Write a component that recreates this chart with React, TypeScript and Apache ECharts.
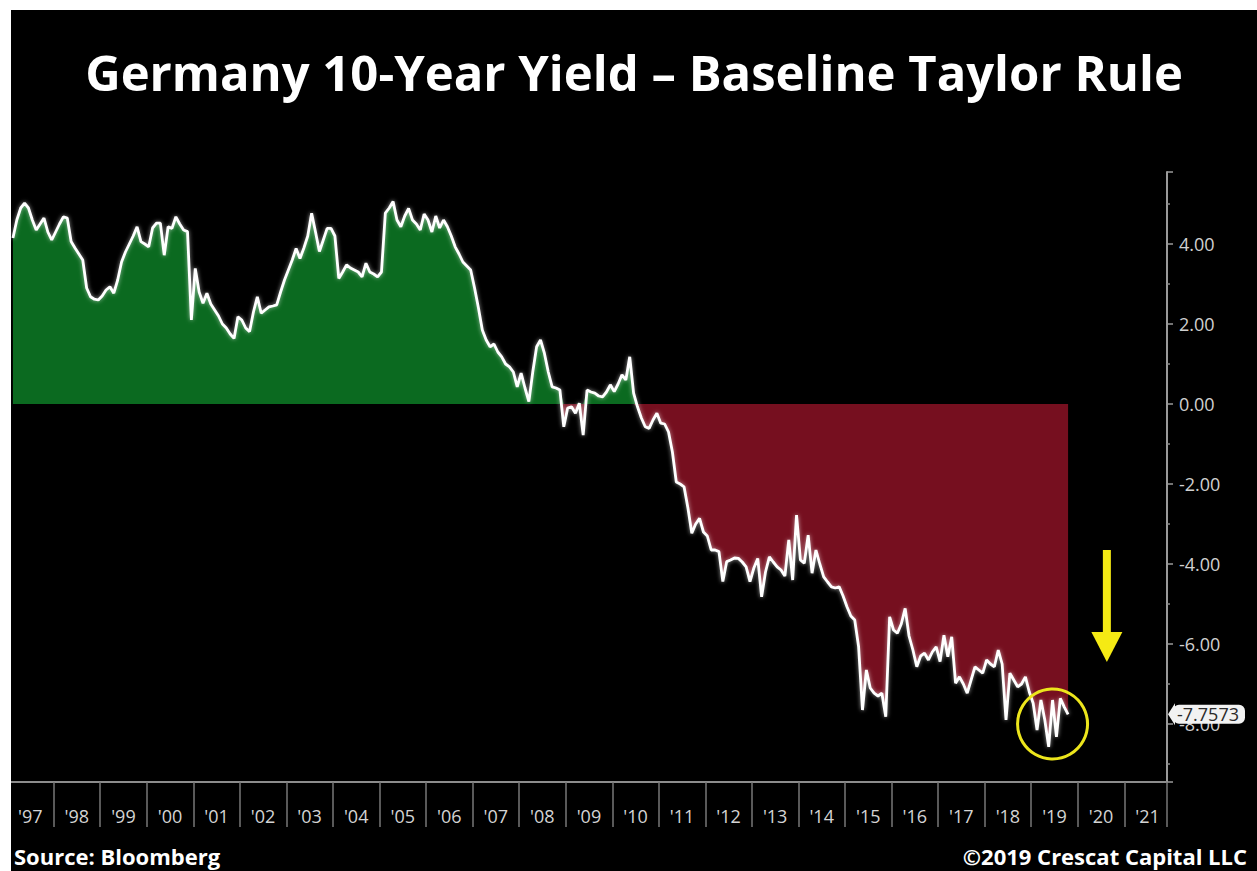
import React, { useEffect, useRef } from "react";
import * as echarts from "echarts";

const TITLE = "Germany 10-Year Yield – Baseline Taylor Rule";
const SOURCE = "Source: Bloomberg";
const COPYRIGHT = "©2019 Crescat Capital LLC";

// Monthly gap (10Y yield minus baseline Taylor rule), first value = Feb 1997
const FIRST_YEAR = 1997;
const FIRST_MONTH = 2;
const LAST_AXIS_YEAR = 2021;
const LAST_AXIS_MONTH = 11;
const y1997 = [4.15, 4.6, 4.9, 5.02, 4.9, 4.6, 4.35, 4.5, 4.65, 4.3, 4.1];
const y1998 = [4.3, 4.5, 4.68, 4.65, 4.06, 3.9, 3.75, 3.6, 2.9, 2.68, 2.62, 2.6];
const y1999 = [2.7, 2.85, 2.93, 2.77, 3.1, 3.55, 3.8, 4.0, 4.2, 4.43, 4.06, 4.0];
const y2000 = [3.93, 4.4, 4.52, 4.52, 3.72, 4.43, 4.39, 4.68, 4.5, 4.35, 4.31, 2.1];
const y2001 = [3.39, 2.8, 2.52, 2.77, 2.5, 2.35, 2.2, 2.0, 1.9, 1.75, 1.64, 2.18];
const y2002 = [2.1, 1.9, 1.81, 2.3, 2.68, 2.27, 2.35, 2.43, 2.45, 2.48, 2.8, 3.1];
const y2003 = [3.35, 3.6, 3.89, 3.64, 3.9, 4.2, 4.77, 4.3, 3.81, 4.1, 4.39, 4.39];
const y2004 = [4.2, 3.14, 3.3, 3.48, 3.4, 3.35, 3.3, 3.18, 3.52, 3.3, 3.25, 3.18];
const y2005 = [3.3, 4.77, 4.9, 5.06, 4.6, 4.43, 4.7, 4.89, 4.6, 4.5, 4.35, 4.75];
const y2006 = [4.6, 4.3, 4.7, 4.4, 4.6, 4.43, 4.2, 3.93, 3.75, 3.55, 3.45, 3.35];
const y2007 = [2.9, 2.4, 1.85, 1.6, 1.43, 1.5, 1.3, 1.18, 1.0, 0.93, 0.8, 0.43];
const y2008 = [0.77, 0.4, 0.06, 0.8, 1.43, 1.6, 1.27, 0.8, 0.43, 0.4, 0.35, -0.57];
const y2009 = [-0.1, -0.07, -0.23, 0.02, -0.78, 0.35, 0.3, 0.27, 0.2, 0.18, 0.3, 0.48];
const y2010 = [0.31, 0.5, 0.73, 0.6, 1.18, 0.27, -0.07, -0.35, -0.57, -0.61, -0.4, -0.23];
const y2011 = [-0.48, -0.5, -0.7, -1.2, -1.95, -2.0, -2.07, -2.6, -3.23, -3.0, -2.86, -3.2];
const y2012 = [-3.3, -3.65, -3.65, -3.69, -4.44, -3.94, -3.9, -3.85, -3.86, -3.95, -4.07, -4.44];
const y2013 = [-4.1, -3.86, -4.82, -4.2, -3.82, -3.95, -4.07, -4.15, -4.3, -3.4, -4.4, -2.78];
const y2014 = [-3.9, -3.98, -3.28, -4.23, -3.65, -4.0, -4.32, -4.45, -4.57, -4.6, -4.57, -4.8];
const y2015 = [-5.07, -5.3, -5.4, -6.07, -7.65, -6.65, -7.1, -7.23, -7.3, -7.23, -7.82, -5.32];
const y2016 = [-5.65, -5.73, -5.5, -5.11, -5.8, -6.15, -6.57, -6.3, -6.23, -6.4, -6.2, -6.07];
const y2017 = [-6.44, -5.78, -6.32, -5.82, -6.98, -6.82, -7.0, -7.23, -6.9, -6.57, -6.65, -6.73];
const y2018 = [-6.4, -6.5, -6.57, -6.15, -6.5, -7.9, -6.73, -6.9, -7.07, -7.0, -6.82, -7.2];
const y2019 = [-7.48, -8.15, -7.4, -7.9, -8.57, -7.4, -8.32, -7.36, -7.57, -7.7573];

// annotations (category month + data value)
const circleMonth = "2019-06";
const circleValue = -8.0;
const arrowMonth = "2020-08";
const arrowFrom = -3.65;
const arrowTo = -6.45;

const Y_MIN = -9.45;
const Y_MAX = 5.8;

const FONT = "'Open Sans', Lato, sans-serif";

const allValues: number[] = [
  ...y1997, ...y1998, ...y1999, ...y2000, ...y2001, ...y2002, ...y2003, ...y2004,
  ...y2005, ...y2006, ...y2007, ...y2008, ...y2009, ...y2010, ...y2011, ...y2012,
  ...y2013, ...y2014, ...y2015, ...y2016, ...y2017, ...y2018, ...y2019,
];
const lastValue = allValues[allValues.length - 1];

const months: string[] = [];
for (let y = FIRST_YEAR, m = FIRST_MONTH; y < LAST_AXIS_YEAR || (y === LAST_AXIS_YEAR && m <= LAST_AXIS_MONTH); ) {
  months.push(`${y}-${String(m).padStart(2, "0")}`);
  m++;
  if (m > 12) { m = 1; y++; }
}

const positivePart = allValues.map((v) => Math.max(v, 0));
const negativePart = allValues.map((v) => Math.min(v, 0));

export default function App() {
  const ref = useRef<HTMLDivElement>(null);
  useEffect(() => {
    const chart = echarts.init(ref.current!, null, { renderer: "svg" });
    const option: any = {
      animation: false,
      backgroundColor: "#000",
      title: {
        text: TITLE,
        left: "center",
        top: 32,
        textStyle: { color: "#fff", fontSize: 49, fontWeight: "bold", fontFamily: FONT },
      },
      grid: { left: 0, right: 90, top: 162, bottom: 89 },
      xAxis: {
        type: "category",
        data: months,
        boundaryGap: true,
        splitLine: { show: false },
        axisLine: { show: true, onZero: false, lineStyle: { color: "#8c8c8c", width: 2 } },
        axisTick: {
          show: true,
          interval: (_i: number, v: string) => v.endsWith("-01"),
          length: 45,
          lineStyle: { color: "#777", width: 1.5 },
        },
        axisLabel: {
          interval: (_i: number, v: string) => v.endsWith("-07"),
          formatter: (v: string) => "'" + v.slice(2, 4),
          color: "#d4d4d4",
          fontSize: 18,
          fontFamily: FONT,
          margin: 25,
          padding: [0, 4, 0, 0],
        },
      },
      yAxis: {
        type: "value",
        position: "right",
        min: Y_MIN,
        max: Y_MAX,
        splitNumber: 8,
        minInterval: 2,
        maxInterval: 2,
        splitLine: { show: false },
        axisLine: { show: true, onZero: false, lineStyle: { color: "#9a9a9a", width: 2 } },
        axisTick: { show: true, length: 6, lineStyle: { color: "#9a9a9a", width: 1.5 } },
        minorTick: { show: true, splitNumber: 2, length: 3, lineStyle: { color: "#8a8a8a", width: 1.5 } },
        axisLabel: {
          showMinLabel: false,
          showMaxLabel: false,
          formatter: (v: number) => v.toFixed(2),
          color: "#d0d0d0",
          fontSize: 18,
          fontFamily: FONT,
          margin: 12,
        },
      },
      series: [
        {
          type: "line",
          data: positivePart,
          showSymbol: false,
          silent: true,
          lineStyle: { opacity: 0, width: 0 },
          itemStyle: { color: "#0b6a20" },
          areaStyle: { color: "#0b6a20", opacity: 1, origin: 0 },
        },
        {
          type: "line",
          data: negativePart,
          showSymbol: false,
          silent: true,
          lineStyle: { opacity: 0, width: 0 },
          itemStyle: { color: "#760f1f" },
          areaStyle: { color: "#760f1f", opacity: 1, origin: 0 },
        },
        {
          type: "line",
          data: allValues,
          showSymbol: false,
          silent: true,
          itemStyle: { color: "#fff" },
          lineStyle: { color: "#fff", width: 2.8, shadowColor: "rgba(255,255,255,0.6)", shadowBlur: 4 },
        },
      ],
    };
    chart.setOption(option);

    const cx = chart.convertToPixel({ xAxisIndex: 0 }, circleMonth) as number;
    const cy = chart.convertToPixel({ yAxisIndex: 0 }, circleValue) as number;
    const ax = chart.convertToPixel({ xAxisIndex: 0 }, arrowMonth) as number;
    const ay0 = chart.convertToPixel({ yAxisIndex: 0 }, arrowFrom) as number;
    const ay1 = chart.convertToPixel({ yAxisIndex: 0 }, arrowTo) as number;
    const tagY = chart.convertToPixel({ yAxisIndex: 0 }, lastValue) as number;
    const gridRight = 1246 - 90;
    const headH = 30;
    const headW = 31;
    chart.setOption({
      graphic: [
        {
          type: "text",
          left: 3,
          top: 835,
          style: { text: SOURCE, fill: "#fff", font: `bold 22px ${FONT}` },
        },
        {
          type: "text",
          right: 10,
          top: 835,
          style: { text: COPYRIGHT, fill: "#fff", font: `bold 22px ${FONT}` },
        },
        {
          type: "polygon",
          silent: true,
          z: 30,
          shape: {
            points: [
              [gridRight + 1, tagY],
              [gridRight + 8, tagY - 11],
              [gridRight + 8, tagY + 11],
            ],
          },
          style: { fill: "#f2f2f2" },
        },
        {
          type: "text",
          silent: true,
          z: 30,
          x: gridRight + 6,
          y: tagY,
          style: {
            text: lastValue.toFixed(4),
            fill: "#2a2a2a",
            font: `18px ${FONT}`,
            backgroundColor: "#f2f2f2",
            borderRadius: 6,
            padding: [1, 6, 0, 4],
            verticalAlign: "middle",
            align: "left",
          },
        },
        {
          type: "circle",
          silent: true,
          shape: { cx, cy, r: 35 },
          style: { fill: "none", stroke: "#ece51c", lineWidth: 3 },
          z: 20,
        },
        {
          type: "line",
          silent: true,
          shape: { x1: ax, y1: ay0, x2: ax, y2: ay1 - headH + 2 },
          style: { stroke: "#f5ea14", lineWidth: 8 },
          z: 20,
        },
        {
          type: "polygon",
          silent: true,
          shape: {
            points: [
              [ax - headW / 2, ay1 - headH],
              [ax + headW / 2, ay1 - headH],
              [ax, ay1],
            ],
          },
          style: { fill: "#f5ea14" },
          z: 20,
        },
      ],
    });
    return () => chart.dispose();
  }, []);
  return (
    <div style={{ position: "fixed", left: 0, top: 0, width: 1257, height: 871, background: "#fff" }}>
      <div ref={ref} style={{ position: "absolute", left: 11, top: 10, width: 1246, height: 861 }} />
    </div>
  );
}
